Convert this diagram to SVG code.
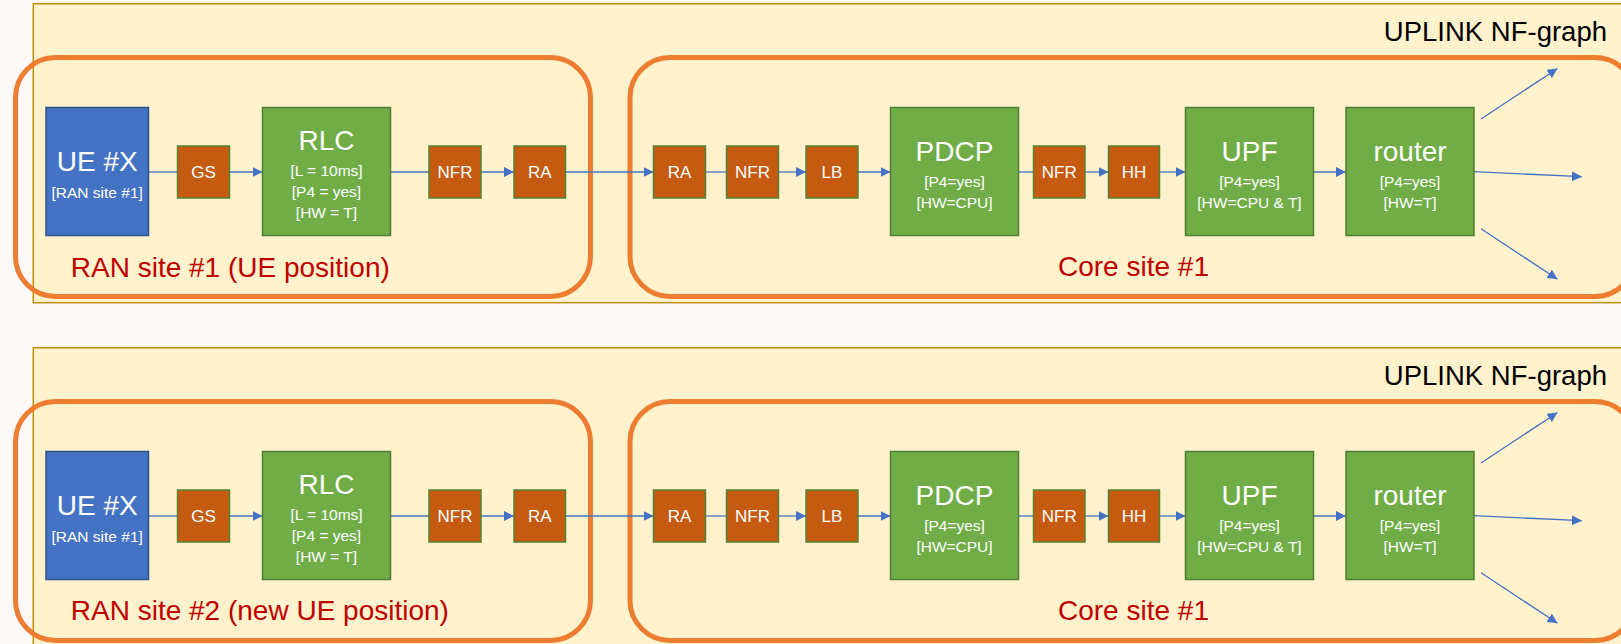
<svg xmlns="http://www.w3.org/2000/svg" width="1621" height="644" viewBox="0 0 1621 644">
<style>
.bg{fill:#FCF8F7}
.panel{fill:#FFF2CC;stroke:#BF9000;stroke-width:1.5}
.site{fill:none;stroke:#ED7D31;stroke-width:5}
.ue{fill:#4472C4;stroke:#2F528F;stroke-width:1.5}
.nf{fill:#70AD47;stroke:#507E32;stroke-width:1.5}
.fn{fill:#C55A11;stroke:#548235;stroke-width:1.5}
.big{font-family:"Liberation Sans",Arial,sans-serif;font-size:28px;fill:#fff;text-anchor:middle}
.small{font-family:"Liberation Sans",Arial,sans-serif;font-size:15.5px;fill:#fff;text-anchor:middle}
.fnt{font-family:"Liberation Sans",Arial,sans-serif;font-size:17px;fill:#fff;text-anchor:middle}
.site-label{font-family:"Liberation Sans",Arial,sans-serif;font-size:28px;fill:#C00000}
.title{font-family:"Liberation Sans",Arial,sans-serif;font-size:27.5px;fill:#000;text-anchor:end}
.c{stroke:#4472C4;stroke-width:1.3;fill:none}
.a{marker-end:url(#arrow)}
</style>
<defs>
<marker id="arrow" markerUnits="userSpaceOnUse" markerWidth="10" markerHeight="10" refX="10" refY="5" orient="auto">
<path d="M0,0 L10,5 L0,10 z" fill="#4472C4"/>
</marker>
</defs>
<rect class="bg" x="0" y="0" width="1621" height="644"/>

<!-- ===== TOP PANEL ===== -->
<g id="top-panel">
<rect class="panel" x="33.3" y="3.7" width="1600" height="299"/>
<text class="title" x="1607" y="40.7">UPLINK NF-graph</text>
</g>
<g id="top-ran-site">
<rect class="site" x="15.5" y="57.5" width="575" height="239" rx="40" ry="40"/>
<text class="site-label" x="70.8" y="276.7">RAN site #1 (UE position)</text>
</g>
<g id="top-core-site">
<rect class="site" x="630" y="57.5" width="1005" height="239" rx="40" ry="40"/>
<text class="site-label" x="1058" y="276.3">Core site #1</text>
</g>

<g id="top-connectors">
<line class="c" x1="148.5" y1="172" x2="177.5" y2="172"/>
<line class="c a" x1="229.5" y1="172" x2="262.5" y2="172"/>
<line class="c" x1="390.5" y1="172" x2="429" y2="172"/>
<line class="c a" x1="481" y1="172" x2="514" y2="172"/>
<line class="c a" x1="565.5" y1="172" x2="653.5" y2="172"/>
<line class="c" x1="705.5" y1="172" x2="726.5" y2="172"/>
<line class="c a" x1="778.5" y1="172" x2="806" y2="172"/>
<line class="c a" x1="858" y1="172" x2="890.5" y2="172"/>
<line class="c" x1="1018.5" y1="172" x2="1033.5" y2="172"/>
<line class="c a" x1="1085" y1="172" x2="1108.5" y2="172"/>
<line class="c a" x1="1159.5" y1="172" x2="1185.5" y2="172"/>
<line class="c a" x1="1313.5" y1="172" x2="1346" y2="172"/>
<line class="c a" x1="1481" y1="119" x2="1557.5" y2="68.5"/>
<line class="c a" x1="1474" y1="171.7" x2="1582" y2="176.7"/>
<line class="c a" x1="1481" y1="228.7" x2="1557.5" y2="279.3"/>
</g>

<g id="top-ue">
<rect class="ue" x="46" y="107.5" width="102.5" height="128"/>
<text class="big" x="97.2" y="171">UE #X</text>
<text class="small" x="97.2" y="197.7">[RAN site #1]</text>
</g>
<g id="top-gs">
<rect class="fn" x="177.5" y="146" width="52" height="52"/>
<text class="fnt" x="203.5" y="178.3">GS</text>
</g>
<g id="top-rlc">
<rect class="nf" x="262.5" y="107.5" width="128" height="128"/>
<text class="big" x="326.5" y="150">RLC</text>
<text class="small" x="326.5" y="176">[L = 10ms]</text>
<text class="small" x="326.5" y="197.3">[P4 = yes]</text>
<text class="small" x="326.5" y="218.3">[HW = T]</text>
</g>
<g id="top-nfr1">
<rect class="fn" x="429" y="146" width="52" height="52"/>
<text class="fnt" x="455" y="178.3">NFR</text>
</g>
<g id="top-ra1">
<rect class="fn" x="514" y="146" width="51.5" height="52"/>
<text class="fnt" x="539.7" y="178.3">RA</text>
</g>
<g id="top-ra2">
<rect class="fn" x="653.5" y="146" width="52" height="52"/>
<text class="fnt" x="679.5" y="178.3">RA</text>
</g>
<g id="top-nfr2">
<rect class="fn" x="726.5" y="146" width="52" height="52"/>
<text class="fnt" x="752.5" y="178.3">NFR</text>
</g>
<g id="top-lb">
<rect class="fn" x="806" y="146" width="52" height="52"/>
<text class="fnt" x="832" y="178.3">LB</text>
</g>
<g id="top-pdcp">
<rect class="nf" x="890.5" y="107.5" width="128" height="128"/>
<text class="big" x="954.5" y="161">PDCP</text>
<text class="small" x="954.5" y="187.3">[P4=yes]</text>
<text class="small" x="954.5" y="208.3">[HW=CPU]</text>
</g>
<g id="top-nfr3">
<rect class="fn" x="1033.5" y="146" width="51.5" height="52"/>
<text class="fnt" x="1059.2" y="178.3">NFR</text>
</g>
<g id="top-hh">
<rect class="fn" x="1108.5" y="146" width="51" height="52"/>
<text class="fnt" x="1134" y="178.3">HH</text>
</g>
<g id="top-upf">
<rect class="nf" x="1185.5" y="107.5" width="128" height="128"/>
<text class="big" x="1249.5" y="161">UPF</text>
<text class="small" x="1249.5" y="187.3">[P4=yes]</text>
<text class="small" x="1249.5" y="208.3">[HW=CPU &amp; T]</text>
</g>
<g id="top-router">
<rect class="nf" x="1346" y="107.5" width="128" height="128"/>
<text class="big" x="1410" y="161">router</text>
<text class="small" x="1410" y="187.3">[P4=yes]</text>
<text class="small" x="1410" y="208.3">[HW=T]</text>
</g>

<!-- ===== BOTTOM PANEL ===== -->
<g transform="translate(0,344)">
<g id="bot-panel">
<rect class="panel" x="33.3" y="3.7" width="1600" height="299"/>
<text class="title" x="1607" y="40.7">UPLINK NF-graph</text>
</g>
<g id="bot-ran-site">
<rect class="site" x="15.5" y="57.5" width="575" height="239" rx="40" ry="40"/>
<text class="site-label" x="70.8" y="276.2">RAN site #2 (new UE position)</text>
</g>
<g id="bot-core-site">
<rect class="site" x="630" y="57.5" width="1005" height="239" rx="40" ry="40"/>
<text class="site-label" x="1058" y="276.3">Core site #1</text>
</g>

<g id="bot-connectors">
<line class="c" x1="148.5" y1="172" x2="177.5" y2="172"/>
<line class="c a" x1="229.5" y1="172" x2="262.5" y2="172"/>
<line class="c" x1="390.5" y1="172" x2="429" y2="172"/>
<line class="c a" x1="481" y1="172" x2="514" y2="172"/>
<line class="c a" x1="565.5" y1="172" x2="653.5" y2="172"/>
<line class="c" x1="705.5" y1="172" x2="726.5" y2="172"/>
<line class="c a" x1="778.5" y1="172" x2="806" y2="172"/>
<line class="c a" x1="858" y1="172" x2="890.5" y2="172"/>
<line class="c" x1="1018.5" y1="172" x2="1033.5" y2="172"/>
<line class="c a" x1="1085" y1="172" x2="1108.5" y2="172"/>
<line class="c a" x1="1159.5" y1="172" x2="1185.5" y2="172"/>
<line class="c a" x1="1313.5" y1="172" x2="1346" y2="172"/>
<line class="c a" x1="1481" y1="119" x2="1557.5" y2="68.5"/>
<line class="c a" x1="1474" y1="171.7" x2="1582" y2="176.7"/>
<line class="c a" x1="1481" y1="228.7" x2="1557.5" y2="279.3"/>
</g>

<g id="bot-ue">
<rect class="ue" x="46" y="107.5" width="102.5" height="128"/>
<text class="big" x="97.2" y="171">UE #X</text>
<text class="small" x="97.2" y="197.7">[RAN site #1]</text>
</g>
<g id="bot-gs">
<rect class="fn" x="177.5" y="146" width="52" height="52"/>
<text class="fnt" x="203.5" y="178.3">GS</text>
</g>
<g id="bot-rlc">
<rect class="nf" x="262.5" y="107.5" width="128" height="128"/>
<text class="big" x="326.5" y="150">RLC</text>
<text class="small" x="326.5" y="176">[L = 10ms]</text>
<text class="small" x="326.5" y="197.3">[P4 = yes]</text>
<text class="small" x="326.5" y="218.3">[HW = T]</text>
</g>
<g id="bot-nfr1">
<rect class="fn" x="429" y="146" width="52" height="52"/>
<text class="fnt" x="455" y="178.3">NFR</text>
</g>
<g id="bot-ra1">
<rect class="fn" x="514" y="146" width="51.5" height="52"/>
<text class="fnt" x="539.7" y="178.3">RA</text>
</g>
<g id="bot-ra2">
<rect class="fn" x="653.5" y="146" width="52" height="52"/>
<text class="fnt" x="679.5" y="178.3">RA</text>
</g>
<g id="bot-nfr2">
<rect class="fn" x="726.5" y="146" width="52" height="52"/>
<text class="fnt" x="752.5" y="178.3">NFR</text>
</g>
<g id="bot-lb">
<rect class="fn" x="806" y="146" width="52" height="52"/>
<text class="fnt" x="832" y="178.3">LB</text>
</g>
<g id="bot-pdcp">
<rect class="nf" x="890.5" y="107.5" width="128" height="128"/>
<text class="big" x="954.5" y="161">PDCP</text>
<text class="small" x="954.5" y="187.3">[P4=yes]</text>
<text class="small" x="954.5" y="208.3">[HW=CPU]</text>
</g>
<g id="bot-nfr3">
<rect class="fn" x="1033.5" y="146" width="51.5" height="52"/>
<text class="fnt" x="1059.2" y="178.3">NFR</text>
</g>
<g id="bot-hh">
<rect class="fn" x="1108.5" y="146" width="51" height="52"/>
<text class="fnt" x="1134" y="178.3">HH</text>
</g>
<g id="bot-upf">
<rect class="nf" x="1185.5" y="107.5" width="128" height="128"/>
<text class="big" x="1249.5" y="161">UPF</text>
<text class="small" x="1249.5" y="187.3">[P4=yes]</text>
<text class="small" x="1249.5" y="208.3">[HW=CPU &amp; T]</text>
</g>
<g id="bot-router">
<rect class="nf" x="1346" y="107.5" width="128" height="128"/>
<text class="big" x="1410" y="161">router</text>
<text class="small" x="1410" y="187.3">[P4=yes]</text>
<text class="small" x="1410" y="208.3">[HW=T]</text>
</g>
</g>
</svg>
